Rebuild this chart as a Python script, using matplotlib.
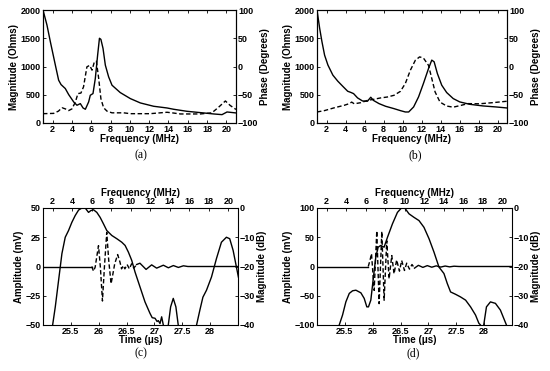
import matplotlib
matplotlib.use("Agg")
import matplotlib.pyplot as plt
import numpy as np

plt.rcParams['font.family'] = ['Liberation Sans', 'DejaVu Sans']
plt.rcParams['font.weight'] = 'bold'

# ---------------- (a) impedance ----------------
fa_mag = [1.0, 1.41, 1.76, 2.28, 2.62, 2.87, 3.31, 3.66, 4.18, 4.52, 4.87, 5.15, 5.39, 5.73, 5.9,
          6.18, 6.42, 6.66, 6.85, 7.0, 7.22, 7.46, 7.8, 8.15, 9.0, 10.05, 11.09, 12.47, 13.85,
          14.54, 15.92, 17.65, 18.69, 19.55, 20.07, 21.0]
a_mag = [2000, 1734, 1440, 1025, 758, 680, 610, 503, 373, 314, 343, 266, 243, 373, 491,
         521, 787, 1200, 1500, 1480, 1320, 1024, 817, 669, 539, 432, 355, 296, 266,
         243, 207, 178, 160, 148, 195, 178]
fa_ph = [1.0, 2.1, 2.6, 2.97, 3.31, 3.66, 4.0, 4.35, 4.62, 4.93, 5.2, 5.55, 5.84, 6.08, 6.32,
         6.53, 6.77, 7.0, 7.28, 7.63, 8.15, 9.36, 10.05, 12.1, 13.85, 14.37, 15.24, 17.3,
         18.5, 19.2, 19.9, 20.4, 21.0]
a_ph = [-83.5, -83, -79, -73, -75, -78, -75, -63, -48, -47, -36, -0.6, 2, -6.5, 8,
        9.5, -21, -57, -73, -79, -82, -82, -83.5, -83.5, -81, -82, -84, -84,
        -82, -72, -61, -69, -76]

# ---------------- (b) impedance ----------------
fb_mag = [1.0, 1.28, 1.52, 1.8, 2.15, 2.67, 3.19, 3.71, 4.23, 4.58, 4.85, 5.27, 5.79, 6.31,
          6.66, 6.94, 7.53, 8.22, 9.09, 9.78, 10.3, 10.65, 11.17, 11.69, 12.2, 12.74, 13.08,
          13.33, 13.67, 14.13, 14.65, 15.34, 16.03, 17.08, 18.47, 19.85, 21.0]
b_mag = [2000, 1675, 1440, 1200, 1025, 847, 740, 650, 562, 540, 520, 444, 390, 385,
         456, 400, 343, 296, 255, 219, 195, 195, 284, 462, 698, 965, 1113,
         1083, 876, 669, 539, 432, 373, 331, 302, 284, 266]
fb_ph = [1.0, 1.8, 2.84, 3.88, 4.4, 4.65, 4.92, 5.62, 6.31, 7.0, 7.7, 8.4, 9.1, 9.78, 10.3,
         10.83, 11.35, 11.8, 12.2, 12.74, 13.08, 13.43, 13.95, 14.65, 15.34, 16.2, 16.9,
         18.1, 19.5, 21.0]
b_ph = [-80.5, -78, -73, -68.6, -65.7, -63, -66, -64, -60, -58, -55.6, -54, -51, -44, -30,
        -6.5, 11, 17, 15, 2, -21, -45, -63, -70, -72, -68.6, -65.7,
        -66, -64, -61.5]

# ---------------- (c) pulse / spectrum ----------------
fc = [1.9, 2.26, 2.6, 2.94, 3.28, 3.62, 3.96, 4.3, 4.65, 4.99, 5.33, 5.67, 5.9, 6.18, 6.52,
      6.86, 7.2, 7.54, 8.06, 8.57, 9.08, 9.42, 9.76, 10.1, 10.44, 10.95, 11.46, 11.97, 12.2,
      12.49, 12.7, 12.83, 13.0, 13.17, 13.34, 13.6, 13.85, 14.09, 14.36, 14.63, 14.87, 15.8,
      16.75, 17.09, 17.4, 17.77, 18.28, 18.79, 19.3, 19.81, 20.15, 20.5, 20.84, 21.04]
c_db = [-42, -33.8, -24.7, -15.6, -10, -7.7, -4.9, -2.6, -0.7, 0, 0, -1.5, -0.9, -0.6, -1.5,
        -3.2, -5.4, -7.7, -9.4, -10.5, -11.7, -12.8, -15.1, -17.9, -21.9, -27, -32.1, -36, -37.5,
        -37.7, -38.8, -38.5, -39.5, -37.2, -40, -45, -40, -33.8, -30.9, -33.8, -40, -50,
        -40, -34.9, -30.5, -28.1, -23.6, -17.3, -11.7, -10, -10.5, -14.5, -20.2, -23.6]
tc = [25.0, 25.876, 25.906, 25.936, 25.996, 26.03, 26.067, 26.103, 26.144, 26.18, 26.222,
      26.25, 26.287, 26.34, 26.382, 26.41, 26.44, 26.47, 26.51, 26.55, 26.59, 26.63, 26.68,
      26.74, 26.85, 26.95, 27.04, 27.16, 27.25, 27.34, 27.43, 27.52, 27.6, 28.5]
c_amp = [0, 0, -4, -0.6, 17.8, -0.6, -29.5, 0, 29.2, 5, -14.7,
         -7.6, 2.3, 10.2, 3.7, -2, 0.8, -2, 1.7, -2, 2.3, -1.4, 1.7,
         2.8, -2.5, 1.4, -1.4, 1.1, -1.1, 0.8, -0.8, 0.6, 0, 0]
c_pulse = (25.876, 26.68)

# ---------------- (d) pulse / spectrum ----------------
fd = [3.1, 3.28, 3.62, 3.96, 4.31, 4.65, 4.99, 5.5, 5.84, 6.11, 6.28, 6.52, 6.79, 7.03, 7.27,
      7.54, 7.88, 8.23, 8.74, 9.25, 9.66, 10.0, 10.44, 10.95, 11.46, 11.97, 12.49, 13.0,
      13.51, 14.02, 14.36, 14.7, 15.21, 15.72, 16.24, 16.75, 17.26, 17.6, 17.77, 17.95,
      18.1, 18.38, 18.79, 19.3, 19.81, 20.15, 20.43, 20.6]
d_db = [-42, -40, -36.6, -32.1, -29.2, -28.3, -28.1, -29, -30.9, -33.8, -33.8, -31.5, -23.6,
        -16.8, -13.4, -12.8, -13.4, -10, -5.4, -1.5, 0, 0, -2, -3.2, -4.3, -6.6, -10.5, -15.1,
        -20.2, -22.4, -25.8, -28.7, -29.5, -30.4, -31.5, -33.8, -36.6, -39.4, -40, -41,
        -40, -33.8, -32.1, -32.6, -34.9, -37.7, -40, -42]
td = [25.0, 25.92, 25.95, 25.978, 26.026, 26.073, 26.115, 26.163, 26.205, 26.252, 26.294,
      26.342, 26.383, 26.43, 26.48, 26.52, 26.57, 26.61, 26.66, 26.705, 26.75,
      26.82, 26.9, 26.98, 27.06, 27.14, 27.22, 27.3, 27.38, 27.46, 27.55, 28.5]
d_amp = [0, 0, 10, 22, -40.8, 61, -63.5, 60, -57.8, 44, -21,
         18.7, -12.5, 11.3, -8, 10.2, -6.8, 5.7, -4.5, 3.4, -2.8,
         2, -1.5, 1.5, -1.2, 1.1, -1.0, 0.8, -0.6, 0.5, 0, 0]
d_pulse = (25.92, 26.75)

freq_ticks = [2, 4, 6, 8, 10, 12, 14, 16, 18, 20]
time_ticks = [25.5, 26, 26.5, 27, 27.5, 28]
time_labels = ['25.5', '26', '26.5', '27', '27.5', '28']

TICK_FS = 6.5
LAB_FS = 7
LW = 1.0
DASH = (0, (3.2, 1.8))

W, H = 550, 371
fig = plt.figure(figsize=(W / 100, H / 100), dpi=100)


def rect(l, t, r, b):
    return [l / W, 1 - b / H, (r - l) / W, (b - t) / H]


def style(ax):
    ax.tick_params(direction='in', length=2.5, width=0.6, labelsize=TICK_FS, pad=1.5)
    for lab in ax.get_xticklabels() + ax.get_yticklabels():
        lab.set_fontweight('bold')
    for s in ax.spines.values():
        s.set_linewidth(0.8)


def impedance(r, f1, mag, f2, ph):
    ax = fig.add_axes(r)
    ax.plot(f1, mag, color='k', lw=LW)
    ax.set_xlim(1, 21)
    ax.set_ylim(0, 2000)
    ax.set_xticks(freq_ticks)
    ax.set_yticks([0, 500, 1000, 1500, 2000])
    ax.xaxis.set_ticks_position('both')
    ax.set_xlabel('Frequency (MHz)', fontsize=LAB_FS, fontweight='bold', labelpad=0)
    ax.set_ylabel('Magnitude (Ohms)', fontsize=LAB_FS, fontweight='bold', labelpad=1)
    style(ax)
    ax2 = ax.twinx()
    ax2.plot(f2, ph, color='k', lw=LW, linestyle=DASH)
    ax2.set_ylim(-100, 100)
    ax2.set_yticks([-100, -50, 0, 50, 100])
    ax2.set_ylabel('Phase (Degrees)', fontsize=LAB_FS, fontweight='bold', labelpad=1)
    style(ax2)
    return ax


def pulse(r, t, amp, win, f, db, ylim, yticks):
    ax = fig.add_axes(r)
    t = np.asarray(t)
    amp = np.asarray(amp)
    pre = t <= win[0]
    mid = (t >= win[0]) & (t <= win[1])
    post = t >= win[1]
    ax.plot(t[pre], amp[pre], color='k', lw=LW)
    ax.plot(t[mid], amp[mid], color='k', lw=LW, linestyle=DASH)
    ax.plot(t[post], amp[post], color='k', lw=LW)
    ax.set_xlim(25.0, 28.5)
    ax.set_ylim(*ylim)
    ax.set_xticks(time_ticks)
    ax.set_xticklabels(time_labels)
    ax.set_yticks(yticks)
    ax.set_xlabel('Time (μs)', fontsize=LAB_FS, fontweight='bold', labelpad=-0.5)
    ax.set_ylabel('Amplitude (mV)', fontsize=LAB_FS, fontweight='bold', labelpad=1)
    style(ax)
    ax2 = fig.add_axes(r, frameon=False)
    ax2.patch.set_visible(False)
    ax2.plot(f, db, color='k', lw=LW)
    ax2.set_xlim(1, 21)
    ax2.set_ylim(-40, 0)
    ax2.set_xticks(freq_ticks)
    ax2.set_yticks([-40, -30, -20, -10, 0])
    ax2.xaxis.tick_top()
    ax2.xaxis.set_label_position('top')
    ax2.yaxis.tick_right()
    ax2.yaxis.set_label_position('right')
    ax2.set_xlabel('Frequency (MHz)', fontsize=LAB_FS, fontweight='bold', labelpad=1)
    ax2.set_ylabel('Magnitude (dB)', fontsize=LAB_FS, fontweight='bold', labelpad=1)
    style(ax2)
    return ax


impedance(rect(43, 10, 236, 123), fa_mag, a_mag, fa_ph, a_ph)
impedance(rect(317, 10, 507, 123), fb_mag, b_mag, fb_ph, b_ph)
pulse(rect(43, 208, 238, 325), tc, c_amp, c_pulse, fc, c_db, (-50, 50), [-50, -25, 0, 25, 50])
pulse(rect(317, 208, 512, 325), td, d_amp, d_pulse, fd, d_db, (-100, 100), [-100, -50, 0, 50, 100])

for x, y, s in [(141, 155, '(a)'), (415, 155, '(b)'), (141, 353, '(c)'), (413, 353, '(d)')]:
    fig.text(x / W, 1 - y / H, s, ha='center', va='center', fontsize=8.5,
             family=['Liberation Serif', 'DejaVu Serif'], fontweight='normal')

fig.savefig('out.png', dpi=100)
